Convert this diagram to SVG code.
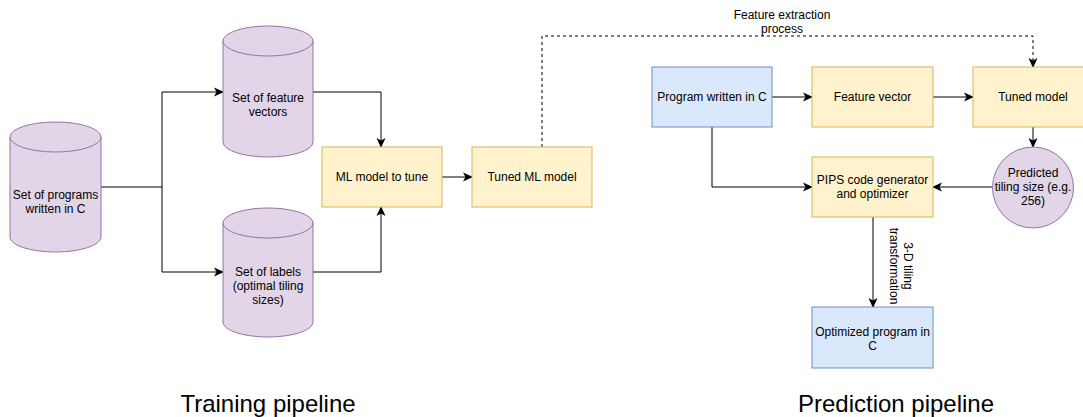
<svg xmlns="http://www.w3.org/2000/svg" width="1083" height="417" viewBox="0 0 1083 417">
<defs>
<marker id="arr" viewBox="0 0 10 10" refX="9" refY="5" markerWidth="10" markerHeight="10" markerUnits="userSpaceOnUse" orient="auto">
<path d="M0,0.5 L10,5 L0,9.5 L2.5,5 Z" fill="#000"/>
</marker>
<style>
.pur{fill:#e1d5e7;stroke:#9673a6;stroke-width:1}
.yel{fill:#fff2cc;stroke:#d6b656;stroke-width:1}
.blu{fill:#dae8fc;stroke:#6c8ebf;stroke-width:1}
.t{font-family:"Liberation Sans",Arial,sans-serif;font-size:12px;fill:#000;text-anchor:middle}
.big{font-family:"Liberation Sans",Arial,sans-serif;font-size:24px;fill:#000;text-anchor:middle}
.e{fill:none;stroke:#000;stroke-width:1}
.a{marker-end:url(#arr)}
.d{stroke-dasharray:3 3}
</style>
</defs>
<rect width="1083" height="417" fill="#fff"/>

<g id="connectors">
<path class="e" d="M101,187 H162 V92 H223" style="marker-end:url(#arr)"/>
<path class="e a" d="M162,187 V272 H223"/>
<path class="e a" d="M313,92 H381 V147"/>
<path class="e a" d="M313,272 H381 V207"/>
<path class="e a" d="M442,177 H472"/>
<path class="e a d" d="M542,147 V36 H1033 V67"/>
<path class="e a" d="M772,97 H812"/>
<path class="e a" d="M933,97 H973"/>
<path class="e a" d="M1033,127 V147"/>
<path class="e a" d="M993,187 H933"/>
<path class="e a" d="M712,127 V187 H812"/>
<path class="e a" d="M873,217 V307"/>
<text class="t" x="782" y="19">Feature extraction</text>
<text class="t" x="782" y="33">process</text>
<text class="t" transform="translate(900,266) rotate(90)" x="0" y="-4">3-D tiling</text>
<text class="t" transform="translate(900,266) rotate(90)" x="0" y="10">transformation</text>
</g>

<g id="programs">
<path class="pur" d="M10,137 A45.5,15 0 0 1 101,137 V237 A45.5,15 0 0 1 10,237 Z"/>
<path class="pur" d="M10,137 A45.5,15 0 0 0 101,137" fill="none"/>
<text class="t" x="55.5" y="199">Set of programs</text>
<text class="t" x="55.5" y="213">written in C</text>
</g>

<g id="features">
<path class="pur" d="M223,41 A45,15 0 0 1 313,41 V142 A45,15 0 0 1 223,142 Z"/>
<path class="pur" d="M223,41 A45,15 0 0 0 313,41" fill="none"/>
<text class="t" x="268" y="102">Set of feature</text>
<text class="t" x="268" y="116">vectors</text>
</g>

<g id="labels">
<path class="pur" d="M223,223 A45,15 0 0 1 313,223 V322 A45,15 0 0 1 223,322 Z"/>
<path class="pur" d="M223,223 A45,15 0 0 0 313,223" fill="none"/>
<text class="t" x="268" y="276">Set of labels</text>
<text class="t" x="268" y="290">(optimal tiling</text>
<text class="t" x="268" y="304">sizes)</text>
</g>

<g id="mlmodel">
<rect class="yel" x="322" y="147" width="120" height="60"/>
<text class="t" x="382" y="181">ML model to tune</text>
</g>

<g id="tunedml">
<rect class="yel" x="472" y="147" width="120" height="60"/>
<text class="t" x="532" y="181">Tuned ML model</text>
</g>

<g id="program">
<rect class="blu" x="652" y="67" width="120" height="60"/>
<text class="t" x="712" y="101">Program written in C</text>
</g>

<g id="featurevector">
<rect class="yel" x="812" y="67" width="121" height="60"/>
<text class="t" x="872.5" y="101">Feature vector</text>
</g>

<g id="tunedmodel">
<rect class="yel" x="973" y="67" width="120" height="60"/>
<text class="t" x="1033" y="101">Tuned model</text>
</g>

<g id="predicted">
<circle class="pur" cx="1033" cy="187.5" r="40.5"/>
<text class="t" x="1033" y="177">Predicted</text>
<text class="t" x="1033" y="191">tiling size (e.g.</text>
<text class="t" x="1033" y="205">256)</text>
</g>

<g id="pips">
<rect class="yel" x="812" y="157" width="121" height="60"/>
<text class="t" x="872.5" y="184">PIPS code generator</text>
<text class="t" x="872.5" y="198">and optimizer</text>
</g>

<g id="optimized">
<rect class="blu" x="812" y="307" width="121" height="61"/>
<text class="t" x="872.5" y="336">Optimized program in</text>
<text class="t" x="872.5" y="350">C</text>
</g>

<text class="big" x="268" y="412">Training pipeline</text>
<text class="big" x="896" y="412">Prediction pipeline</text>
</svg>
